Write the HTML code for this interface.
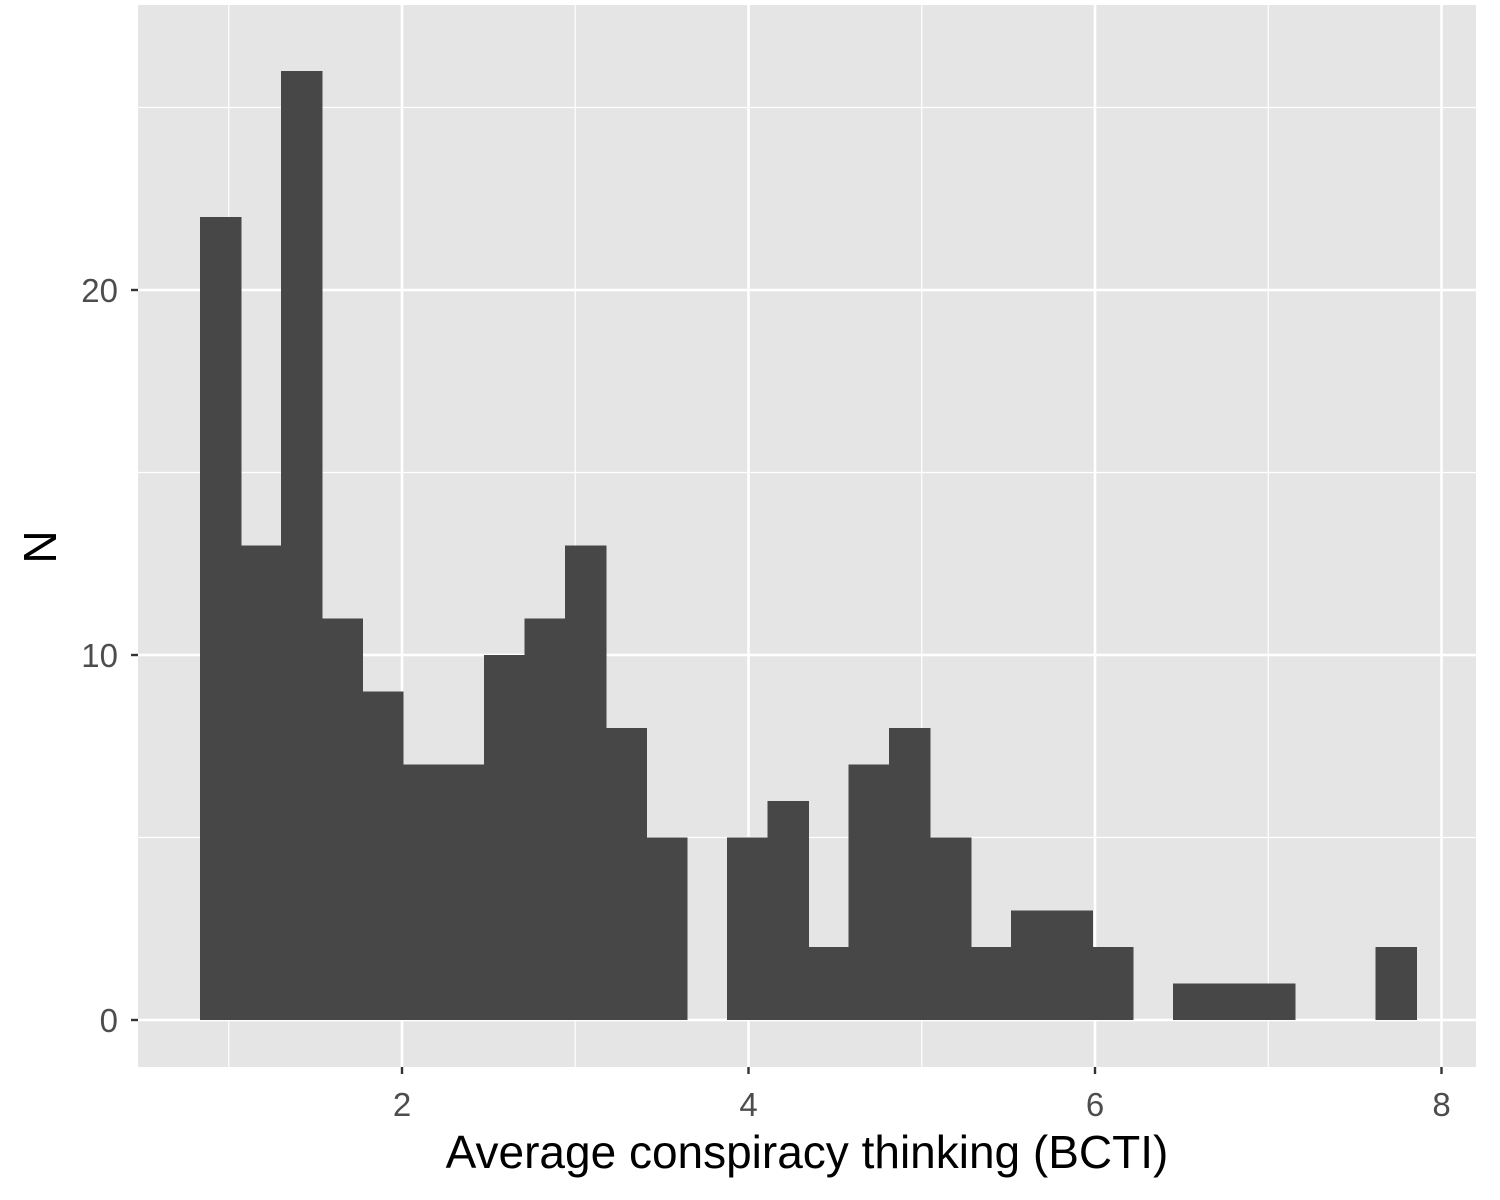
<!DOCTYPE html>
<html><head><meta charset="utf-8"><style>
body{margin:0;background:#fff;}
svg{display:block;font-family:"Liberation Sans",Arial,sans-serif;}
</style></head><body>
<svg id="chart" width="1500" height="1200" viewBox="0 0 1500 1200" xmlns="http://www.w3.org/2000/svg">
<rect x="0" y="0" width="1500" height="1200" fill="#fff"/>
<rect x="138" y="5" width="1338" height="1062" fill="#e5e5e5"/>
<g id="grid"></g>
<g id="bars" shape-rendering="crispEdges"></g>
<g id="axes"></g>
<text x="807" y="1168" font-size="46" text-anchor="middle" fill="#000">Average conspiracy thinking (BCTI)</text>
<text transform="translate(56,547) rotate(-90)" font-size="46" text-anchor="middle" fill="#000">N</text>
</svg>
<script>
const counts = [22,13,26,11,9,7,7,10,11,13,8,5,0,5,6,2,7,8,5,2,3,3,2,0,1,1,1,0,0,2];
const binStart = 0.834;
const binWidth = 0.234;
const xTicks = [2,4,6,8];
const xMinor = [1,3,5,7];
const yTicks = [0,10,20];
const yMinor = [5,15,25];

const NS = "http://www.w3.org/2000/svg";
const xs = v => 402 + (v - 2) * 173.25;
const ys = v => 1020 - v * 36.5;
const grid = document.getElementById('grid');
const bars = document.getElementById('bars');
const axes = document.getElementById('axes');
function mk(tag, attrs, parent){ const e=document.createElementNS(NS,tag); for(const k in attrs) e.setAttribute(k,attrs[k]); parent.appendChild(e); return e; }

xMinor.forEach(v=>{ const l=mk('line',{x1:xs(v),x2:xs(v),y1:5,y2:1067,stroke:'#fff','stroke-width':1.2},grid);

 });
yMinor.forEach(v=>{ const l=mk('line',{x1:138,x2:1476,y1:ys(v),y2:ys(v),stroke:'#fff','stroke-width':1.2},grid);

 });
xTicks.forEach(v=>{ const l=mk('line',{x1:xs(v),x2:xs(v),y1:5,y2:1067,stroke:'#fff','stroke-width':2.6},grid);

 });
yTicks.forEach(v=>{ const l=mk('line',{x1:138,x2:1476,y1:ys(v),y2:ys(v),stroke:'#fff','stroke-width':2.6},grid);

 });

counts.forEach((c,i)=>{
  if(c<=0) return;
  const x0=xs(binStart+i*binWidth), x1=xs(binStart+(i+1)*binWidth);
  const r=mk('rect',{x:x0,y:ys(c),width:x1-x0+1,height:ys(0)-ys(c),fill:'#474747'},bars);
  
  
});

xTicks.forEach(v=>{
  const t=mk('line',{x1:xs(v),x2:xs(v),y1:1067,y2:1074,stroke:'#333','stroke-width':2.4},axes);
  
  
  const tx=mk('text',{x:xs(v),y:1116,'font-size':33,'text-anchor':'middle',fill:'#4d4d4d'},axes);
  tx.textContent=v;
  
  
});
yTicks.forEach(v=>{
  const t=mk('line',{x1:131,x2:138,y1:ys(v),y2:ys(v),stroke:'#333','stroke-width':2.4},axes);
  
  
  const tx=mk('text',{x:118,y:ys(v)+12,'font-size':33,'text-anchor':'end',fill:'#4d4d4d'},axes);
  tx.textContent=v;
  
  
});
</script>
</body></html>
